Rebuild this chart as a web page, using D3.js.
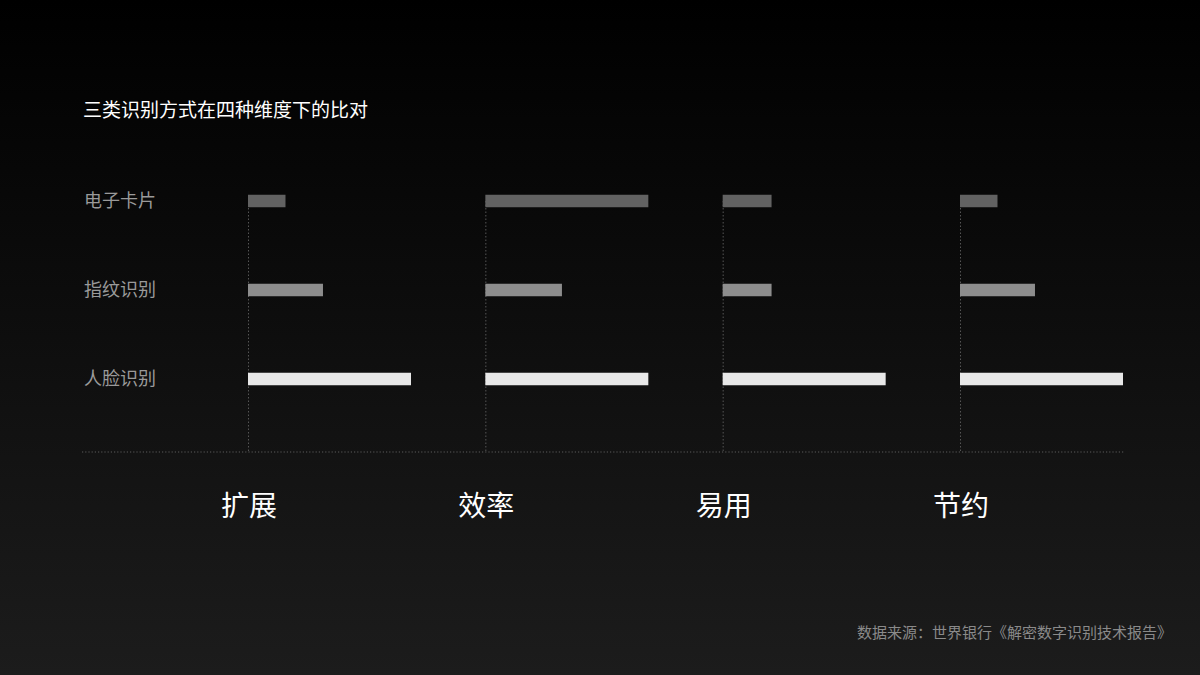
<!DOCTYPE html>
<html>
<head>
<meta charset="utf-8">
<script src="https://cdn.jsdelivr.net/npm/d3@7"></script>
<style>
html,body{margin:0;padding:0;background:#000;}
svg{display:block;}
text{font-family:"Noto Sans CJK SC","Noto Sans",sans-serif;}
</style>
</head>
<body>
<svg id="chart" width="1200" height="675"></svg>
<script>
const title = "三类识别方式在四种维度下的比对";
const source = "数据来源：世界银行《解密数字识别技术报告》";
const dimensions = ["扩展", "效率", "易用", "节约"];
const methods = ["电子卡片", "指纹识别", "人脸识别"];
const cardValues = [23, 100, 30, 23];
const fingerprintValues = [46, 47, 30, 46];
const faceValues = [100, 100, 100, 100];
const seriesValues = [cardValues, fingerprintValues, faceValues];
const methodColors = ["#626262", "#8d8d8d", "#e8e8e8"];

const W = 1200, H = 675;
const svg = d3.select("#chart");

const defs = svg.append("defs");
const grad = defs.append("linearGradient").attr("id","bg").attr("x1",0).attr("y1",0).attr("x2",0).attr("y2",1);
grad.append("stop").attr("offset","0%").attr("stop-color","#000000");
grad.append("stop").attr("offset","100%").attr("stop-color","#1c1c1c");
svg.append("rect").attr("width",W).attr("height",H).attr("fill","url(#bg)");

const x = d3.scalePoint().domain(dimensions).range([248, 960]);
const y = d3.scalePoint().domain(methods).range([201, 379]);
const len = d3.scaleLinear().domain([0, 100]).range([0, 163]);
const barH = 12.5;
const axisY = 452;

// title
svg.append("text").attr("x",83).attr("y",112).attr("fill","#ffffff")
  .attr("font-size",19).attr("font-weight",400).attr("dominant-baseline","middle").text(title);

// axis line
svg.append("line").attr("x1",82).attr("x2",1125).attr("y1",axisY).attr("y2",axisY)
  .attr("stroke","#5a5a5a").attr("stroke-width",1.2).attr("stroke-dasharray","1.2,2");

// vertical dotted guides
svg.append("g").selectAll("line").data(dimensions).join("line")
  .attr("x1",d=>x(d)+0.5).attr("x2",d=>x(d)+0.5)
  .attr("y1",y(methods[0])).attr("y2",axisY)
  .attr("stroke","#555").attr("stroke-width",1).attr("stroke-dasharray","1.5,2");

// row labels
svg.append("g").selectAll("text").data(methods).join("text")
  .attr("x",84).attr("y",d=>y(d)+1).attr("fill","#9a9a9a").attr("font-size",18)
  .attr("dominant-baseline","middle").text(d=>d);

// bars
const flat = [];
methods.forEach((m,i)=>dimensions.forEach((d,j)=>flat.push({m, d, v: seriesValues[i][j], c: methodColors[i]})));
svg.append("g").selectAll("rect").data(flat).join("rect")
  .attr("x",d=>x(d.d)).attr("y",d=>y(d.m)-barH/2)
  .attr("width",d=>len(d.v)).attr("height",barH).attr("fill",d=>d.c);

// category labels
svg.append("g").selectAll("text").data(dimensions).join("text")
  .attr("x",d=>x(d)+1).attr("y",508).attr("fill","#ffffff").attr("font-size",28)
  .attr("font-weight",400).attr("text-anchor","middle").attr("dominant-baseline","middle").text(d=>d);

// source
svg.append("text").attr("x",1172).attr("y",634).attr("fill","#8a8a8a").attr("font-size",15)
  .attr("text-anchor","end").attr("dominant-baseline","middle").text(source);
</script>
</body>
</html>
